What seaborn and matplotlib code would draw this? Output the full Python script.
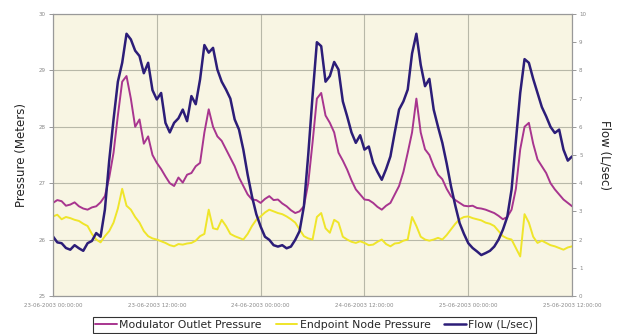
import matplotlib
matplotlib.use('Agg')
import matplotlib.pyplot as plt
import numpy as np
import pandas as pd
import seaborn as sns

# half-hourly readings, 23-06-2003 00:00 .. 25-06-2003 12:00
hours = list(np.arange(0, 60.5, 0.5))

modulator = [26.65, 26.70, 26.68, 26.60, 26.62, 26.66, 26.59, 26.55, 26.53, 26.57,
             26.59, 26.66, 26.77, 27.10, 27.54, 28.20, 28.80, 28.90, 28.50, 28.00,
             28.13, 27.70, 27.83, 27.50, 27.36, 27.25, 27.12, 27.00, 26.95, 27.10,
             27.01, 27.15, 27.18, 27.30, 27.36, 27.90, 28.31, 28.00, 27.83, 27.75,
             27.60, 27.45, 27.30, 27.10, 26.95, 26.80, 26.71, 26.70, 26.65, 26.72,
             26.77, 26.70, 26.71, 26.64, 26.59, 26.52, 26.47, 26.50, 26.59, 27.00,
             27.72, 28.50, 28.60, 28.20, 28.07, 27.90, 27.54, 27.40, 27.24, 27.05,
             26.89, 26.80, 26.71, 26.70, 26.65, 26.58, 26.53, 26.60, 26.65, 26.80,
             26.95, 27.20, 27.54, 27.90, 28.50, 27.90, 27.60, 27.50, 27.30, 27.15,
             27.07, 26.90, 26.77, 26.70, 26.65, 26.60, 26.59, 26.60, 26.56, 26.55,
             26.53, 26.50, 26.47, 26.42, 26.36, 26.40, 26.53, 26.90, 27.60, 28.00,
             28.07, 27.70, 27.42, 27.30, 27.18, 27.00, 26.89, 26.80, 26.71, 26.65,
             26.59]

endpoint = [26.41, 26.44, 26.36, 26.40, 26.38, 26.35, 26.33, 26.28, 26.24, 26.10,
            26.00, 25.95, 26.06, 26.15, 26.30, 26.55, 26.90, 26.60, 26.53, 26.40,
            26.30, 26.15, 26.06, 26.02, 26.00, 25.97, 25.94, 25.90, 25.88, 25.92,
            25.91, 25.93, 25.94, 25.98, 26.06, 26.10, 26.53, 26.20, 26.18, 26.35,
            26.24, 26.10, 26.06, 26.03, 26.00, 26.10, 26.24, 26.35, 26.41, 26.48,
            26.53, 26.50, 26.47, 26.45, 26.41, 26.36, 26.30, 26.18, 26.06, 26.02,
            26.00, 26.40, 26.47, 26.20, 26.12, 26.35, 26.30, 26.05, 26.00, 25.96,
            25.94, 25.97, 25.94, 25.90, 25.91, 25.96, 26.00, 25.92, 25.88, 25.93,
            25.94, 25.98, 26.00, 26.40, 26.24, 26.05, 26.00, 25.98, 26.00, 26.03,
            26.00, 26.08, 26.18, 26.28, 26.36, 26.40, 26.41, 26.38, 26.36, 26.34,
            26.30, 26.28, 26.24, 26.15, 26.06, 26.02, 26.00, 25.85, 25.70, 26.45,
            26.30, 26.05, 25.94, 25.98, 25.94, 25.90, 25.88, 25.85, 25.82, 25.86,
            25.88]

flow = [2.11, 1.90, 1.87, 1.70, 1.64, 1.80, 1.69, 1.60, 1.87, 1.95,
        2.23, 2.10, 3.06, 4.80, 6.26, 7.60, 8.27, 9.30, 9.10, 8.70,
        8.51, 7.90, 8.27, 7.30, 6.97, 7.20, 6.14, 5.80, 6.14, 6.30,
        6.61, 6.20, 7.09, 6.80, 7.68, 8.90, 8.63, 8.80, 8.03, 7.60,
        7.32, 7.00, 6.26, 5.90, 5.19, 4.30, 3.53, 2.90, 2.46, 2.10,
        1.99, 1.80, 1.75, 1.80, 1.69, 1.75, 1.99, 2.30, 3.18, 5.00,
        7.09, 9.00, 8.86, 7.60, 7.80, 8.30, 8.03, 6.90, 6.37, 5.80,
        5.43, 5.70, 5.19, 5.30, 4.72, 4.40, 4.12, 4.50, 4.95, 5.80,
        6.61, 6.90, 7.32, 8.60, 9.30, 8.20, 7.44, 7.70, 6.61, 6.00,
        5.43, 4.70, 3.89, 3.20, 2.58, 2.20, 1.87, 1.70, 1.58, 1.45,
        1.52, 1.60, 1.75, 2.00, 2.35, 2.80, 3.77, 5.50, 7.20, 8.40,
        8.27, 7.70, 7.20, 6.70, 6.37, 6.00, 5.78, 5.90, 5.19, 4.80,
        4.95]

tick_hours = [0, 12, 24, 36, 48, 60]
tick_labels = ["23-06-2003 00:00:00", "23-06-2003 12:00:00", "24-06-2003 00:00:00",
               "24-06-2003 12:00:00", "25-06-2003 00:00:00", "25-06-2003 12:00:00"]

df = pd.DataFrame({"hour": hours, "mod": modulator, "end": endpoint, "flow": flow})

c_mod = "#a8358f"
c_end = "#efe52a"
c_flow = "#2c1d78"

sns.set_style("white")
fig = plt.figure(figsize=(6.21, 3.34), dpi=100)
ax = fig.add_axes([0.0853, 0.114, 0.836, 0.844])
ax.set_facecolor("#f8f5e3")

sns.lineplot(data=df, x="hour", y="mod", ax=ax, color=c_mod, lw=1.4, label="Modulator Outlet Pressure", legend=False)
sns.lineplot(data=df, x="hour", y="end", ax=ax, color=c_end, lw=1.4, label="Endpoint Node Pressure", legend=False)

ax2 = ax.twinx()
sns.lineplot(data=df, x="hour", y="flow", ax=ax2, color=c_flow, lw=1.8, label="Flow (L/sec)", legend=False)

ax.set_xlim(0, 60)
ax.set_ylim(25, 30)
ax2.set_ylim(0, 10)
ax.set_xticks(tick_hours)
ax.set_xticklabels(tick_labels)
ax.set_yticks([25, 26, 27, 28, 29, 30])
ax2.set_yticks(range(11))
ax.grid(True, color="#b8b8a8", lw=0.8)
ax2.grid(False)
for a in (ax, ax2):
    a.tick_params(axis="both", labelsize=4, colors="#888888", length=3, width=0.6, direction="out", pad=2)
    for s in a.spines.values():
        s.set_color("#999999")
        s.set_linewidth(0.8)
ax.tick_params(axis="x", bottom=False)
ax.set_xlabel("")
ax.set_ylabel("Pressure (Meters)", fontsize=8.5, color="#222222", labelpad=8)
ax2.set_ylabel("Flow (L/sec)", fontsize=8.5, color="#222222", rotation=270, labelpad=18)
ax2.set_zorder(ax.get_zorder() + 1)
ax2.patch.set_visible(False)

h1, l1 = ax.get_legend_handles_labels()
h2, l2 = ax2.get_legend_handles_labels()
leg = fig.legend(h1 + h2, l1 + l2, loc="lower center", bbox_to_anchor=(0.506, -0.012), ncol=3,
                 fontsize=7.8, frameon=True, fancybox=False, edgecolor="black",
                 handlelength=2.0, handletextpad=0.2, columnspacing=1.3, borderpad=0.25)
leg.get_frame().set_linewidth(0.8)

plt.savefig("out.png", dpi=100)
